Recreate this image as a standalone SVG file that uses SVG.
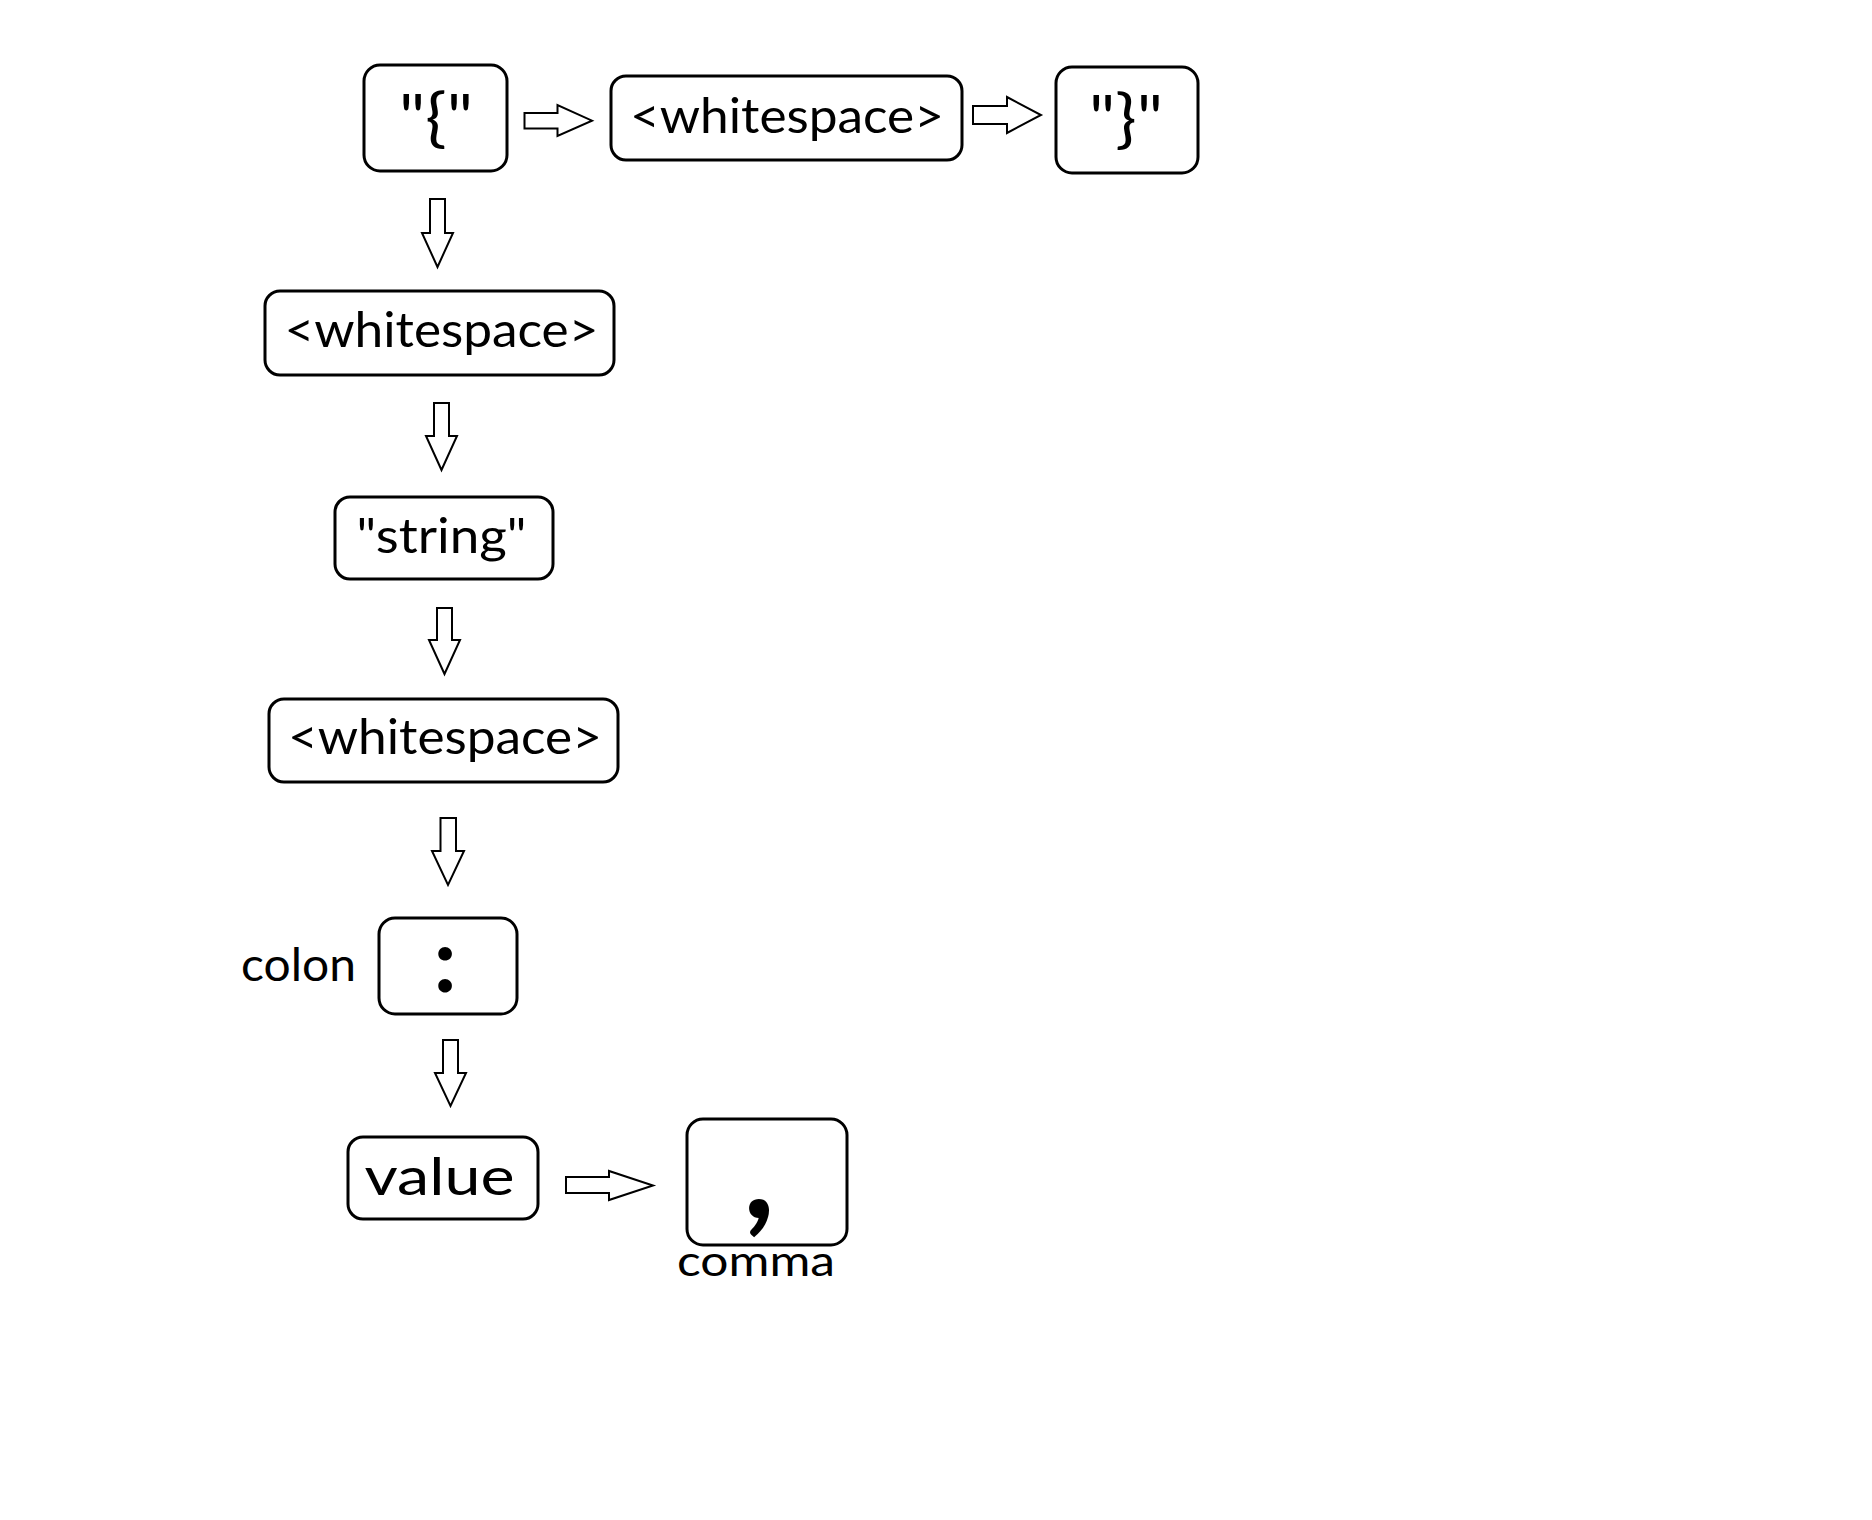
<svg xmlns="http://www.w3.org/2000/svg" width="1872" height="1520" viewBox="0 0 1872 1520">
<style>
.box{fill:#fff;stroke:#000;stroke-width:3}
.arr{fill:#fff;stroke:#000;stroke-width:2;stroke-linejoin:miter}
.t{font-family:Lato,"Open Sans","Liberation Sans",sans-serif;fill:#000}
.m{text-anchor:middle}
</style>
<rect width="1872" height="1520" fill="#fff"/>
<g id="connectors">
<polygon class="arr" points="524.5,113 557.5,113 557.5,105 592,120.7 557.5,136 557.5,128.5 524.5,128.5"/>
<polygon class="arr" points="973,106 1007,106 1007,97 1041,115 1007,133 1007,124 973,124"/>
<polygon class="arr" points="566,1177 609,1177 609,1171 653,1185.5 609,1200 609,1193 566,1193"/>
<polygon class="arr" points="430,199 445,199 445,233 453,233 437.5,267 422,233 430,233"/>
<polygon class="arr" points="434,403 449,403 449,436 457,436 441.5,470 426,436 434,436"/>
<polygon class="arr" points="437,608 452,608 452,640 460,640 444.5,674 429,640 437,640"/>
<polygon class="arr" points="440.5,818 456,818 456,851 464,851 448,885 432,851 440.5,851"/>
<polygon class="arr" points="443,1040 458,1040 458,1073 466,1073 450.5,1106 435,1073 443,1073"/>
</g>
<g id="node-lbrace">
<rect class="box" x="364" y="65" width="143" height="106" rx="16"/>
<text class="t m" x="436" y="140" font-size="64" textLength="74" lengthAdjust="spacingAndGlyphs">"{"</text>
</g>
<g id="node-ws-top">
<rect class="box" x="611" y="76" width="351" height="84" rx="15"/>
<text class="t m" x="787" y="133" font-size="48" textLength="314" lengthAdjust="spacingAndGlyphs">&lt;whitespace&gt;</text>
</g>
<g id="node-rbrace">
<rect class="box" x="1056" y="67" width="142" height="106" rx="16"/>
<text class="t m" x="1126" y="141" font-size="64" textLength="74" lengthAdjust="spacingAndGlyphs">"}"</text>
</g>
<g id="node-ws2">
<rect class="box" x="265" y="291" width="349" height="84" rx="15"/>
<text class="t m" x="441.5" y="347" font-size="48" textLength="314" lengthAdjust="spacingAndGlyphs">&lt;whitespace&gt;</text>
</g>
<g id="node-string">
<rect class="box" x="335" y="497" width="218" height="82" rx="15"/>
<text class="t m" x="441.5" y="553" font-size="48" textLength="170" lengthAdjust="spacingAndGlyphs">"string"</text>
</g>
<g id="node-ws3">
<rect class="box" x="269" y="699" width="349" height="83" rx="15"/>
<text class="t m" x="445" y="754" font-size="48" textLength="314" lengthAdjust="spacingAndGlyphs">&lt;whitespace&gt;</text>
</g>
<g id="node-colon">
<rect class="box" x="379" y="918" width="138" height="96" rx="16"/>
<text class="t m" x="445" y="992" font-size="90" font-weight="bold">:</text>
<text class="t" x="241" y="981" font-size="47" textLength="115" lengthAdjust="spacingAndGlyphs">colon</text>
</g>
<g id="node-value">
<rect class="box" x="348" y="1137" width="190" height="82" rx="15"/>
<text class="t m" x="439.5" y="1195" font-size="52" textLength="150" lengthAdjust="spacingAndGlyphs">value</text>
</g>
<g id="node-comma">
<rect class="box" x="687" y="1119" width="160" height="126" rx="16"/>
<text class="t m" x="759" y="1218" font-size="135" font-weight="bold">,</text>
<text class="t" x="677" y="1276" font-size="42" textLength="158" lengthAdjust="spacingAndGlyphs">comma</text>
</g>
</svg>
